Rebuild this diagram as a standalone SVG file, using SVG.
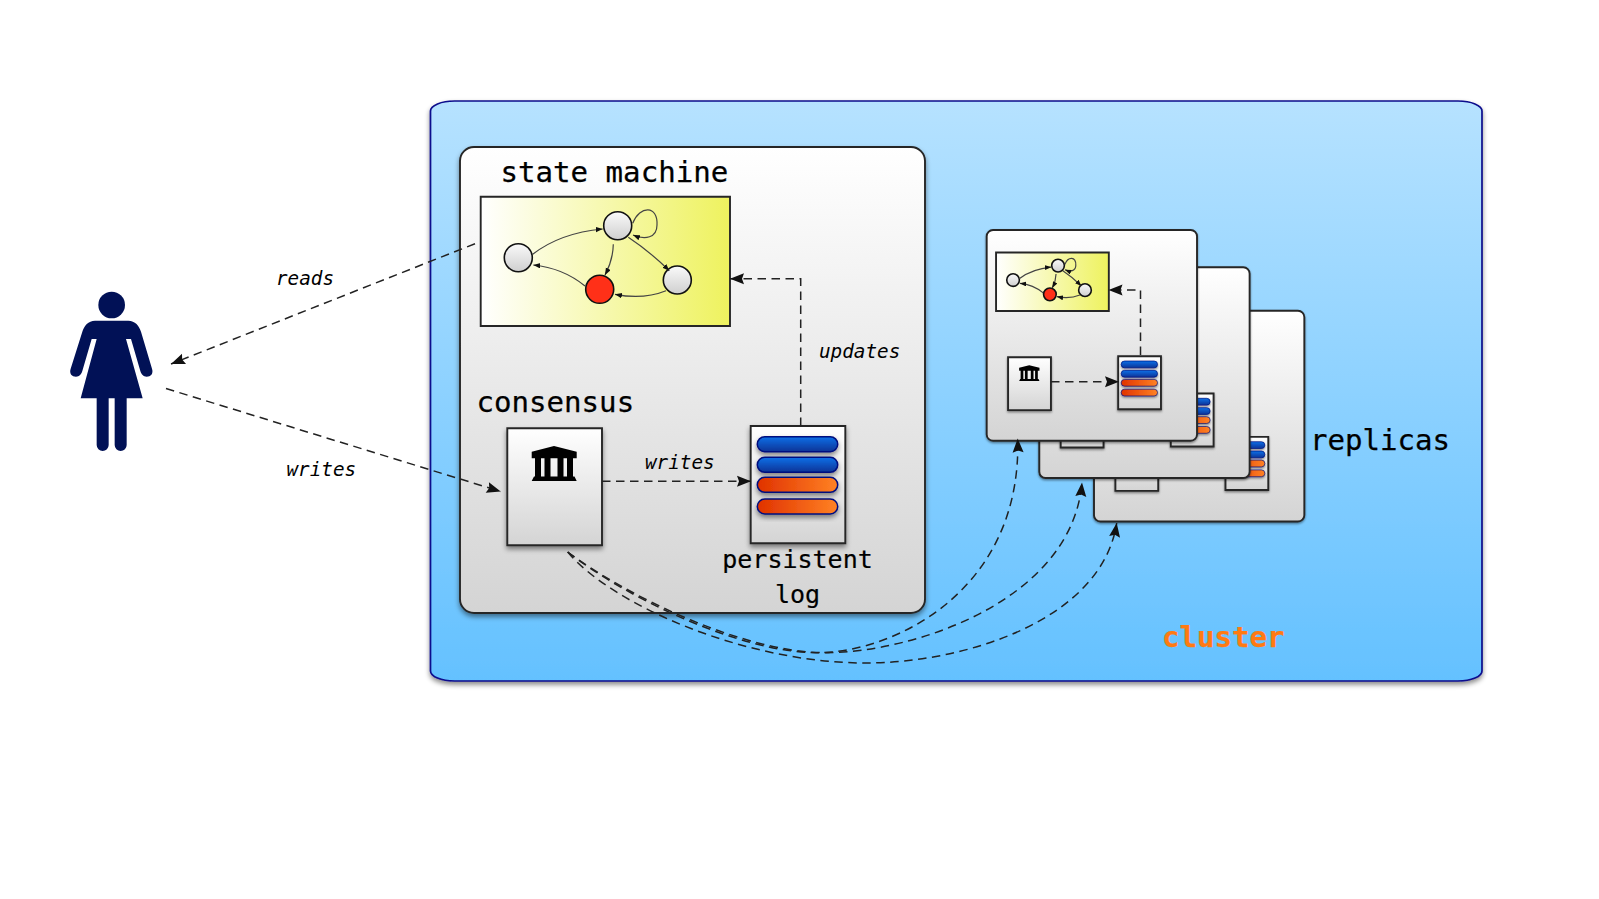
<svg xmlns="http://www.w3.org/2000/svg" xmlns:xlink="http://www.w3.org/1999/xlink" width="1599" height="899" viewBox="0 0 1599 899">
<style>
text{font-family:"DejaVu Sans Mono","Liberation Mono",monospace;fill:#000}
.big{font-size:29.1px;stroke:#000;stroke-width:.25}
.mid{font-size:25px;text-anchor:middle;stroke:#000;stroke-width:.2}
.lab{font-size:19.3px;font-style:italic}
.edge{fill:none;stroke:#444;stroke-width:1.2;vector-effect:non-scaling-stroke}
.dash{fill:none;stroke:#222;stroke-width:1.5;stroke-dasharray:8.5 5.5}
.box{stroke:#262626;stroke-width:1.9;vector-effect:non-scaling-stroke}
.state{stroke:#111;stroke-width:1.6;fill:url(#gNode);vector-effect:non-scaling-stroke}
</style>
<defs>
<linearGradient id="gCluster" x1="0" y1="0" x2="0" y2="1"><stop offset="0" stop-color="#b6e2ff"/><stop offset="1" stop-color="#64c1ff"/></linearGradient>
<linearGradient id="gCard" x1="0" y1="0" x2="0" y2="1"><stop offset="0" stop-color="#fff"/><stop offset="1" stop-color="#d4d4d4"/></linearGradient>
<linearGradient id="gNode" x1="0" y1="0" x2="0" y2="1"><stop offset="0" stop-color="#fafafa"/><stop offset="1" stop-color="#cfcfcf"/></linearGradient>
<linearGradient id="gSm" x1="0" y1="0" x2="1" y2="0"><stop offset="0" stop-color="#fff"/><stop offset="1" stop-color="#eef25e"/></linearGradient>
<linearGradient id="gBlue" x1="0" y1="0" x2="0" y2="1"><stop offset="0" stop-color="#0a70e8"/><stop offset="1" stop-color="#0a3396"/></linearGradient>
<linearGradient id="gOrange" x1="0" y1="0" x2="1" y2="0"><stop offset="0" stop-color="#e03200"/><stop offset="1" stop-color="#ff8224"/></linearGradient>
<filter id="shadow" x="-10%" y="-10%" width="120%" height="120%"><feDropShadow dx="0" dy="3" stdDeviation="2.5" flood-color="#000" flood-opacity=".45"/></filter>
<marker id="arrow" markerUnits="userSpaceOnUse" markerWidth="16" markerHeight="13" refX="14" refY="5.5" orient="auto" overflow="visible"><path d="M0,0L14,5.5L0,11L2,5.5Z" fill="#111"/></marker>
<marker id="tiny" markerUnits="userSpaceOnUse" markerWidth="8" markerHeight="6" refX="7" refY="2.7" orient="auto"><path d="M0,0L7,2.7L0,5.4Z" fill="#111"/></marker>
<marker id="tinyR" markerUnits="userSpaceOnUse" markerWidth="16" markerHeight="12" refX="14" refY="5.4" orient="auto"><path d="M0,0L14,5.4L0,10.8Z" fill="#111"/></marker>
<rect id="card" class="box" x="460" y="147" width="465" height="466" rx="14" fill="url(#gCard)" filter="url(#shadow)"/>
<g id="smBox">
<rect class="box" x="480.7" y="196.7" width="249.3" height="129.3" fill="url(#gSm)"/>
<circle class="state" cx="518.3" cy="257.7" r="14"/>
<circle class="state" cx="617.7" cy="225.7" r="14"/>
<circle class="state" cx="677.3" cy="280" r="14"/>
<circle class="state" cx="599.7" cy="289.3" r="14" style="fill:#ff3018"/>
</g>
<g id="smEdges">
<path class="edge" d="M532.7,254.3Q560,233 602.7,229"/>
<path class="edge" d="M632.7,223.3C640,205 658,205 657,225C657,238 645,240 633,235"/>
<path class="edge" d="M628.3,237.3Q650,251.7 669.3,270.7"/>
<path class="edge" d="M613.3,244.3Q613,260 605,275"/>
<path class="edge" d="M666,290.7Q643,300 615,294.3"/>
<path class="edge" d="M585,286Q563,268 533.3,265"/>
</g>
<g id="consensusBox">
<rect class="box" x="507.3" y="428.3" width="94.7" height="117" fill="url(#gCard)" filter="url(#shadow)"/>
<path fill="#000" d="M531.7,451.7L554,446L576.7,451.7V458.3H531.7ZM535,458.3H541V476.5H535ZM544.5,458.3H550.5V476.5H544.5ZM557.5,458.3H563.5V476.5H557.5ZM567,458.3H573V476.5H567ZM534,476.5H574.5L576.7,481H531.7Z"/>
</g>
<g id="logBox">
<rect class="box" x="750.7" y="426" width="94.6" height="117.3" fill="url(#gCard)" filter="url(#shadow)"/>
<g stroke="#00107e" stroke-width="1.5" filter="url(#shadow)">
<rect x="757.3" y="436.7" width="80.4" height="15" rx="7.5" fill="url(#gBlue)"/>
<rect x="757.3" y="457.3" width="80.4" height="15" rx="7.5" fill="url(#gBlue)"/>
<rect x="757.3" y="477.3" width="80.4" height="15" rx="7.5" fill="url(#gOrange)"/>
<rect x="757.3" y="499" width="80.4" height="15" rx="7.5" fill="url(#gOrange)"/>
</g>
</g>
<g id="replicaBody">
<use href="#card"/>
<use href="#smBox"/>
<use href="#smEdges" marker-end="url(#tinyR)"/>
<use href="#consensusBox"/>
<use href="#logBox"/>
</g>
</defs>

<g id="cluster">
<rect x="430.5" y="101" width="1051.5" height="580" rx="24" ry="10" fill="url(#gCluster)" stroke="#0c0c8c" stroke-width="1.7" filter="url(#shadow)"/>
<text class="big" x="1162" y="647" style="fill:#ff7a12;stroke:#ff7a12;font-weight:bold">cluster</text>
</g>

<g id="user" fill="#011156" transform="translate(50,270) scale(.33333)">
<circle cx="185" cy="105" r="40"/>
<path d="M135,152H235C255,152 268,168 273,185L306,296C311,311 302,320 290,320C280,320 274,313 271,303L243,207H228L278,385H230V525A18,18 0 0 1 194,525V385H176V525A18,18 0 0 1 140,525V385H92L140,207H125L97,303C94,313 88,320 78,320C66,320 57,311 62,296L97,185C102,168 115,152 135,152Z"/>
</g>

<g id="replica-3" transform="translate(1094,310.7) scale(.4523) translate(-460,-147)"><use href="#replicaBody"/></g>
<g id="replica-2" transform="translate(1039.3,267.3) scale(.4523) translate(-460,-147)"><use href="#replicaBody"/></g>
<g id="replica-1" transform="translate(986.7,230) scale(.4523) translate(-460,-147)"><use href="#replicaBody"/></g>

<g id="primary">
<use href="#card"/>
<text class="big" x="500.5" y="182.3">state machine</text>
<text class="big" x="476.5" y="412">consensus</text>
</g>
<g id="state-machine"><use href="#smBox"/><use href="#smEdges" marker-end="url(#tiny)"/></g>
<g id="consensus"><use href="#consensusBox"/></g>
<g id="persistent-log"><use href="#logBox"/>
<text class="mid" x="797.5" y="568">persistent</text>
<text class="mid" x="797.5" y="603">log</text>
</g>

<g id="replicas-label"><text class="big" x="1310" y="450">replicas</text></g>

<g id="connectors">
<path class="dash" d="M475,243.7L171,364" marker-end="url(#arrow)"/>
<path class="dash" d="M166,388.5L500.7,491.5" marker-end="url(#arrow)"/>
<path class="dash" d="M602,481.3H751" marker-end="url(#arrow)"/>
<path class="dash" d="M800.7,426V278.7H730" marker-end="url(#arrow)"/>
<path class="dash" d="M567.7,552C625,597 740,652.7 817,652.7C895,652.7 1022,590 1017.7,438.5" marker-end="url(#arrow)"/>
<path class="dash" d="M567.7,552C628,597 745,652.7 825,652.7C915,652.7 1072,600 1082,482.5" marker-end="url(#arrow)"/>
<path class="dash" d="M567.7,552C612,605 745,663 865.6,663C965,663 1102,620 1116.7,523" marker-end="url(#arrow)"/>
<path class="dash" d="M1051,381.7H1119" marker-end="url(#arrow)"/>
<path class="dash" d="M1140.5,355V290H1108.5" marker-end="url(#arrow)"/>
<text class="lab" x="276" y="284.5">reads</text>
<text class="lab" x="286.5" y="476">writes</text>
<text class="lab" x="645" y="469">writes</text>
<text class="lab" x="819" y="358">updates</text>
</g>
</svg>
